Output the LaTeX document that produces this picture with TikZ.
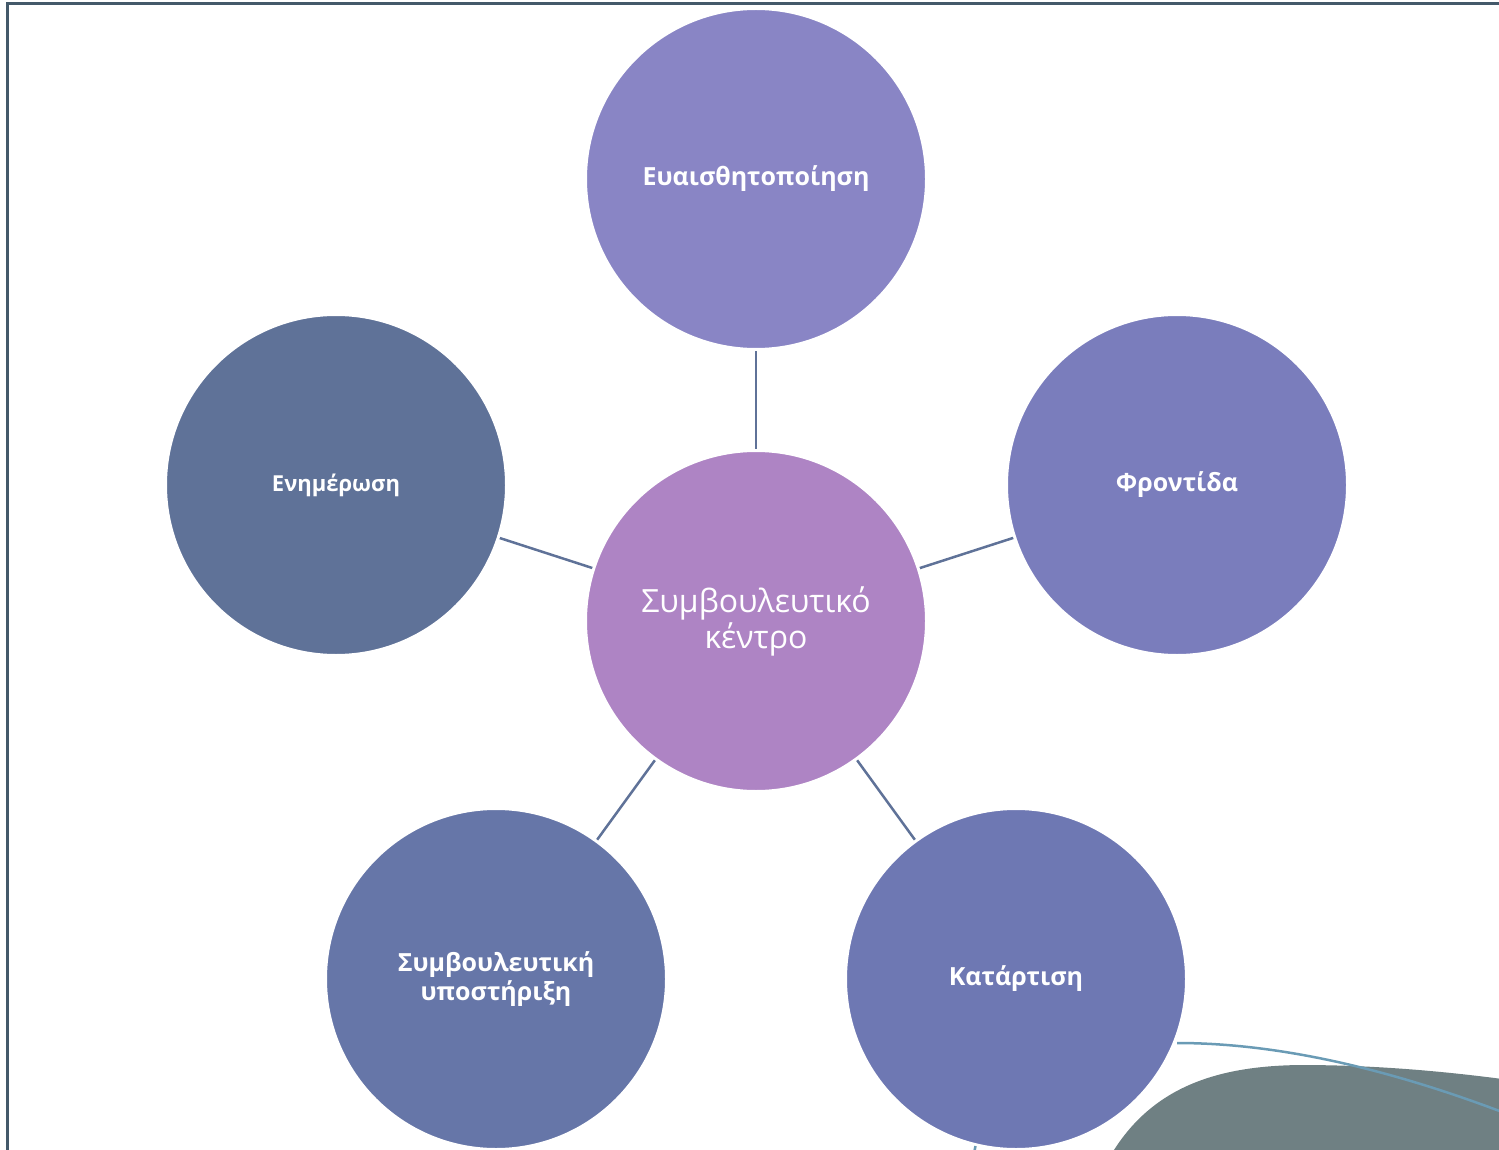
\documentclass[tikz,border=0pt]{standalone}
\usepackage{fontspec}
\setmainfont{Open Sans}
\begin{document}
\begin{tikzpicture}[x=1pt,y=-1pt,
  bub/.style={circle, minimum size=341pt, inner sep=0pt, draw=white, line width=3pt, text=white, align=center},
  lbl/.style={font=\fontsize{25}{29}\selectfont\bfseries},
  conn/.style={draw=linkcol, line width=2.5pt}]
\definecolor{linkcol}{HTML}{5F7298}
\definecolor{ctop}{HTML}{8985C5}
\definecolor{cright}{HTML}{7A7DBC}
\definecolor{cbr}{HTML}{6E78B3}
\definecolor{cbl}{HTML}{6676A8}
\definecolor{cleft}{HTML}{5F7298}
\definecolor{ccen}{HTML}{AE84C4}
\definecolor{blob}{HTML}{6F8083}
\definecolor{curve}{HTML}{6A9BB5}
\definecolor{frame}{HTML}{44596A}
\useasboundingbox (0,0) rectangle (1499,1150);
% frame
\draw[frame, line width=2.5pt] (7.5,1160) -- (7.5,3.5) -- (1510,3.5);
% connectors (beneath)
\coordinate (pC) at (756,621);
\coordinate (pT) at (756,179);
\coordinate (pR) at (1177,485);
\coordinate (pL) at (336,485);
\coordinate (pBL) at (496,979);
\coordinate (pBR) at (1016,979);
\draw[conn] (pC) -- (pT);
\draw[conn] (pC) -- (pR);
\draw[conn] (pC) -- (pL);
\draw[conn] (pC) -- (pBL);
\draw[conn] (pC) -- (pBR);
% decoration bottom right
\fill[blob] (1108,1160) .. controls (1150,1085) and (1220,1066) .. (1300,1065)
  .. controls (1380,1065) and (1450,1072) .. (1510,1080) -- (1510,1160) -- cycle;
\node[bub, fill=ccen, font=\fontsize{32}{36}\selectfont] (cen) at (pC) {Συμβουλευτικό\\κέντρο};
\node[bub, fill=ctop, lbl] (top) at (pT) {Ευαισθητοποίηση};
\node[bub, fill=cright, lbl] (right) at (pR) {Φροντίδα};
\node[bub, fill=cleft, font=\fontsize{22}{26}\selectfont\bfseries] (left) at (pL) {Ενημέρωση};
\node[bub, fill=cbl, lbl] (bl) at (pBL) {Συμβουλευτική\\υποστήριξη};
\node[bub, fill=cbr, lbl] (br) at (pBR) {Κατάρτιση};
\coordinate (cs) at (1177,1043);
\coordinate (ce) at (1510,1115);
\draw[curve, line width=2.5pt] (cs) .. controls (1270,1043) and (1380,1065) .. (ce);
\coordinate (ds) at (975.5,1146);
\coordinate (de) at (974.5,1151);
\draw[curve, line width=2.5pt] (ds) -- (de);
\end{tikzpicture}
\end{document}
